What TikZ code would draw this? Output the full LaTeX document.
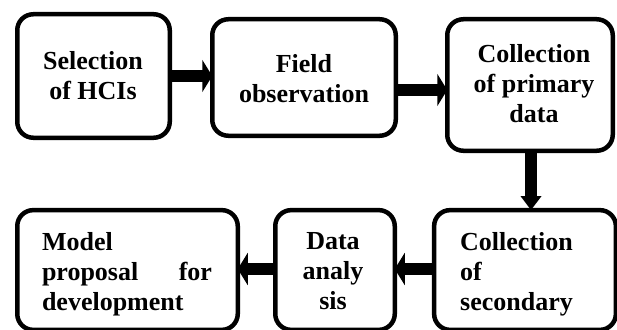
\documentclass[tikz,border=0pt]{standalone}
\usepackage{fontspec}
\setmainfont{Liberation Serif}
\usetikzlibrary{arrows.meta,calc}
\tikzset{
  box/.style={draw, line width=4.5pt, rounded corners=16pt, inner sep=0pt, outer sep=0pt, rectangle},
  txt/.style={font=\fontsize{26}{30}\selectfont\bfseries, inner sep=0pt, align=center},
  arr/.style={line width=12pt, -{Triangle[width=32pt,length=10pt]}},
  varr/.style={line width=12pt, -{Triangle[width=20pt,length=14pt]}}
}
\begin{document}
\begin{tikzpicture}[x=1pt,y=-1pt]
\useasboundingbox (0,0) rectangle (617,329);
\clip (0,0) rectangle (617,329);
% boxes
\node[box, minimum width=152.5, minimum height=123.5] (b1) at (93.5,76) {};
\node[box, minimum width=183.5, minimum height=116.5] (b2) at (304,77.5) {};
\node[box, minimum width=165.5, minimum height=131.5] (b3) at (530,85) {};
\node[box, minimum width=220.5, minimum height=119.75] (b6) at (127.5,270) {};
\node[box, minimum width=119.5, minimum height=119.75] (b5) at (335,270) {};
\node[box, minimum width=181.75, minimum height=119.75] (b4) at (525,270) {};
% texts
\node[txt] (t1) at (93,76) {Selection\\of HCIs};
\node[txt] (t2) at (304,78.5) {Field\\observation};
\node[txt] (t3) at (534,84) {Collection\\of primary\\data};
\node[txt, text width=170, align=left] (t6) at (127,274) {Model\\proposal\hfill for\\development};
\node[txt] (t5) at (333,271) {Data\\analy\\sis};
\node[txt, text width=150, align=left, anchor=west] (t4) at (460,274) {Collection\\of\\secondary};
% arrows
\draw[arr] (b1.east) -- (b1.east -| b2.west);
\draw[arr] (b2.east |- 0,90) -- (b3.west |- 0,90);
\draw[varr] (b3.south -| 531,0) -- (b4.north -| 531,0);
\draw[arr] (b4.west |- 0,269) -- (b5.east |- 0,269);
\draw[arr] (b5.west |- 0,269) -- (b6.east |- 0,269);
\end{tikzpicture}
\end{document}
